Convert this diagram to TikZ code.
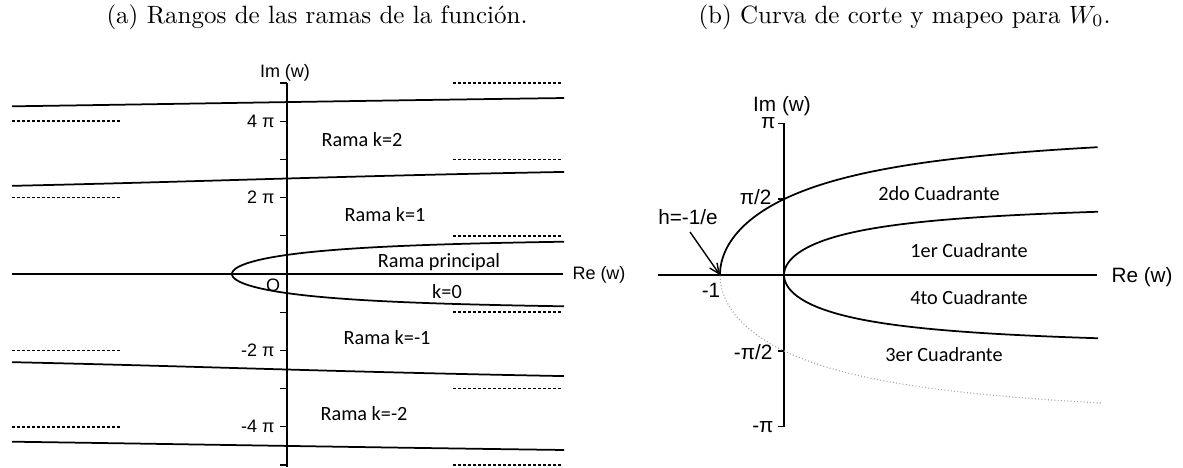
\documentclass[tikz,border=0pt]{standalone}
\usepackage{fontspec}
\newfontfamily\carl{Carlito}
\newfontfamily\ars{Liberation Sans}
\usetikzlibrary{arrows.meta}
\begin{document}
\begin{tikzpicture}[x=0.4pt,y=-0.4pt,
  axisline/.style={line width=0.75pt},
  curveline/.style={line width=0.7pt},
  asym/.style={line width=0.6pt, dash pattern=on 1.3pt off 0.7pt},
  cutdot/.style={line width=0.45pt, gray!70, dash pattern=on 0.4pt off 0.9pt},
  tickline/.style={line width=0.5pt},
  lbl/.style={font=\carl\fontsize{8.1}{9}\selectfont, inner sep=0pt, anchor=base},
  axl/.style={font=\ars\fontsize{7.2}{8}\selectfont, inner sep=0pt},
  axr/.style={font=\ars\fontsize{8.3}{9}\selectfont, inner sep=0pt},
  captxt/.style={font=\fontsize{10}{12}\selectfont, inner sep=0pt, anchor=base west}]
\useasboundingbox (0,0) rectangle (1183,467);

% captions
\node[captxt] (capa) at (106,23) {(a) Rangos de las ramas de la función.};
\node[captxt] (capb) at (698,23) {(b) Curva de corte y mapeo para $W_0$.};

% ===== left panel =====
\draw[axisline] (12,274) -- (563,274);
\draw[axisline] (287,83) -- (287,467);
\foreach \k in {-5,-4,-3,-2,-1,1,2,3,4,5}
  \draw[tickline] (280,274-38.2*\k) -- (287,274-38.2*\k);
\node[axl, anchor=east] (l4) at (275,121.2) {4 π};
\node[axl, anchor=east] (l2) at (275,197.6) {2 π};
\node[axl, anchor=east] (lm2) at (275,350.4) {-2 π};
\node[axl, anchor=east] (lm4) at (275,426.8) {-4 π};
\node[axl, anchor=base] (imA) at (285,77) {Im (w)};
\node[axl, anchor=west] (reA) at (572,275) {Re (w)};
\node[axl] (oA) at (273,285) {O};

\begin{scope}
\clip (12,0) rectangle (564,467);
\draw[curveline] plot[domain=-2.70:2.70, samples=120, variable=\t, smooth]
  ({287-55*\t*cos(\t r)/sin(\t r)}, {274-12.16*\t});
\draw[curveline] plot[domain=7.2:8.45, samples=60, variable=\t, smooth]
  ({287-55*\t*cos(\t r)/sin(\t r)}, {274-12.16*\t});
\draw[curveline] plot[domain=7.2:8.45, samples=60, variable=\t, smooth]
  ({287-55*\t*cos(\t r)/sin(\t r)}, {274+12.16*\t});
\draw[curveline] plot[domain=13.75:14.5, samples=60, variable=\t, smooth]
  ({287-55*\t*cos(\t r)/sin(\t r)}, {274-12.16*\t});
\draw[curveline] plot[domain=13.75:14.5, samples=60, variable=\t, smooth]
  ({287-55*\t*cos(\t r)/sin(\t r)}, {274+12.16*\t});
\end{scope}

\foreach \y in {121.2,197.6,350.4,426.8}
  \draw[asym] (12,\y) -- (122,\y);
\foreach \y in {83,159.4,235.8,312.2,388.6,465}
  \draw[asym] (453,\y) -- (563,\y);

\node[lbl] (r2) at (362,146.5) {Rama k=2};
\node[lbl] (r1) at (385,221.5) {Rama k=1};
\node[lbl] (rp) at (439,267.5) {Rama principal};
\node[lbl] (r0) at (447,298.5) {k=0};
\node[lbl] (rm1) at (387,344.5) {Rama k=-1};
\node[lbl] (rm2) at (364,420.5) {Rama k=-2};

% ===== right panel =====
\draw[axisline] (658,275) -- (1097,275);
\draw[axisline] (784,123.3) -- (784,426.7);
\foreach \y in {123.3,199.1,350.9,426.7}
  \draw[tickline] (778,\y) -- (784,\y);
\node[axr, anchor=east] (tp) at (776,123.3) {π};
\node[axr, anchor=east] (tp2) at (772,197) {π/2};
\node[axr, anchor=east] (tmp2) at (773,352) {-π/2};
\node[axr, anchor=east] (tmp) at (774,427) {-π};
\node[axr, anchor=base] (imB) at (782,111) {Im (w)};
\node[axr, anchor=base west] (reB) at (1111,282) {Re (w)};
\node[axr, anchor=base] (m1lab) at (711,297) {-1};
\node[axr, anchor=base] (hlab) at (688,224) {h=-1/e};

\coordinate (m1) at (720,275);
\coordinate (hstart) at (690,232);

\draw[curveline] (m1) -- plot[domain=0.02:2.647, samples=90, variable=\t, smooth]
  ({784-64*\t*cos(\t r)/sin(\t r)}, {275-48.3*\t});
\draw[cutdot] plot[domain=-2.65:-0.02, samples=90, variable=\t, smooth]
  ({784-64*\t*cos(\t r)/sin(\t r)}, {275-48.3*\t}) -- (m1);
\draw[curveline] plot[domain=-1.31:1.31, samples=101, variable=\t, smooth]
  ({784+64*\t*tan(\t r)}, {275-48.3*\t});

\draw[line width=0.55pt, -{Straight Barb[length=4pt,width=3.6pt]}] (hstart) -- (m1);

\node[lbl] (q2) at (939,200.5) {2do Cuadrante};
\node[lbl] (q1) at (969,257.5) {1er Cuadrante};
\node[lbl] (q4) at (969,304.5) {4to Cuadrante};
\node[lbl] (q3) at (944,361.5) {3er Cuadrante};
\end{tikzpicture}
\end{document}
